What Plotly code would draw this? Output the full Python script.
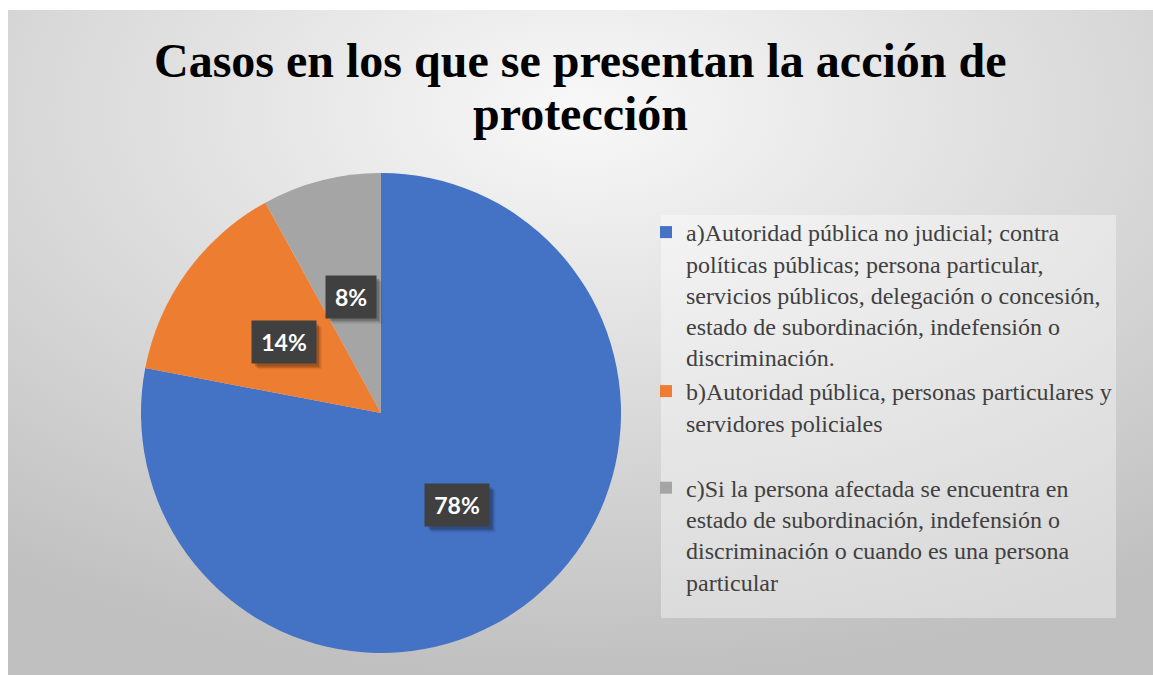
import base64
import math
import plotly.graph_objects as go

# ---------------- data ----------------
title_lines = ["Casos en los que se presentan la acción de", "protección"]
labels = [
    "a)Autoridad pública no judicial; contra<br>políticas públicas; persona particular,<br>servicios públicos, delegación o concesión,<br>estado de subordinación, indefensión o<br>discriminación.",
    "b)Autoridad pública, personas particulares y<br>servidores policiales",
    "c)Si la persona afectada se encuentra en<br>estado de subordinación, indefensión o<br>discriminación o cuando es una persona<br>particular",
]
values = [78, 14, 8]
colors = ["#4472C4", "#ED7D31", "#A5A5A5"]

W, H = 1153, 675

# legend spacing: pad item b with a blank line so that item c sits lower (like the original)
legend_labels = [labels[0], labels[1] + "<br> ", labels[2]]

# pie placement (pixels)
pcx, pcy, R = 381, 413, 240
dom_x = [(pcx - R) / W, (pcx + R) / W]
dom_y = [(H - (pcy + R)) / H, (H - (pcy - R)) / H]

fig = go.Figure()
fig.add_trace(go.Pie(
    labels=legend_labels,
    values=values,
    sort=False,
    direction="clockwise",
    rotation=0,
    marker=dict(colors=colors, line=dict(width=0)),
    textinfo="none",
    hoverinfo="label+percent",
    domain=dict(x=dom_x, y=dom_y),
))

annotations = []
shapes = []

# title (two lines, Excel-like tight line spacing)
for i, (line, yc) in enumerate(zip(title_lines, [61, 114])):
    annotations.append(dict(
        x=580 / W, y=1 - yc / H, xref="paper", yref="paper",
        xanchor="center", yanchor="middle",
        text=f"<b>{line}</b>", showarrow=False,
        font=dict(family="Liberation Serif", size=48, color="black"),
    ))

# legend panel
shapes.append(dict(
    type="rect", xref="paper", yref="paper",
    x0=661 / W, x1=1116 / W, y0=1 - 618 / H, y1=1 - 215 / H,
    fillcolor="rgba(255,255,255,0.38)", line=dict(width=0), layer="below",
))

# data-label boxes at half radius along the mid-angle of each slice
total = sum(values)
cum = 0
for v in values:
    mid = (cum + v / 2) / total * 2 * math.pi
    cum += v
    px = pcx + 0.5 * R * math.sin(mid)
    py = pcy - 0.5 * R * math.cos(mid)
    pct = f"{round(v / total * 100)}%"
    tw = 14 * len(pct) + 4
    th = 24
    pad = 9
    bw, bh = tw + 2 * pad, th + 2 * pad
    for off, alpha in [(6, 0.07), (4.5, 0.12), (3, 0.18)]:
        shapes.append(dict(
            type="rect", xref="paper", yref="paper",
            x0=(px - bw / 2 + off) / W, x1=(px + bw / 2 + off) / W,
            y0=1 - (py + bh / 2 + off) / H, y1=1 - (py - bh / 2 + off) / H,
            fillcolor=f"rgba(0,0,0,{alpha})", line=dict(width=0), layer="above",
        ))
    annotations.append(dict(
        x=px / W, y=1 - py / H, xref="paper", yref="paper",
        xanchor="center", yanchor="middle",
        text=f"<b>{pct}</b>", showarrow=False,
        width=tw, height=th,
        font=dict(family="Lato", size=23, color="white"),
        bgcolor="#404040", borderpad=pad,
    ))

# background gradient image for the chart area
svg = (
    "<svg xmlns='http://www.w3.org/2000/svg' width='1145' height='665'>"
    "<defs><radialGradient id='g' cx='50%' cy='15%' r='85%'>"
    "<stop offset='0' stop-color='#f8f8f8'/>"
    "<stop offset='1' stop-color='#c0c0c0'/>"
    "</radialGradient></defs>"
    "<rect width='100%' height='100%' fill='url(#g)'/></svg>"
)
src = "data:image/svg+xml;base64," + base64.b64encode(svg.encode()).decode()

fig.update_layout(
    width=W, height=H,
    margin=dict(l=0, r=0, t=0, b=0),
    paper_bgcolor="white",
    plot_bgcolor="rgba(0,0,0,0)",
    images=[dict(
        source=src, xref="paper", yref="paper",
        x=8 / W, y=1 - 10 / H, sizex=1145 / W, sizey=665 / H,
        xanchor="left", yanchor="top", sizing="stretch", layer="below",
    )],
    shapes=shapes,
    legend=dict(
        x=646 / W, xanchor="left",
        y=1 - 210 / H, yanchor="top",
        bgcolor="rgba(0,0,0,0)",
        font=dict(family="Liberation Serif", size=24, color="#404040"),
        valign="top",
        tracegroupgap=0,
    ),
    annotations=annotations,
    showlegend=True,
)

fig.write_html("out.html")
